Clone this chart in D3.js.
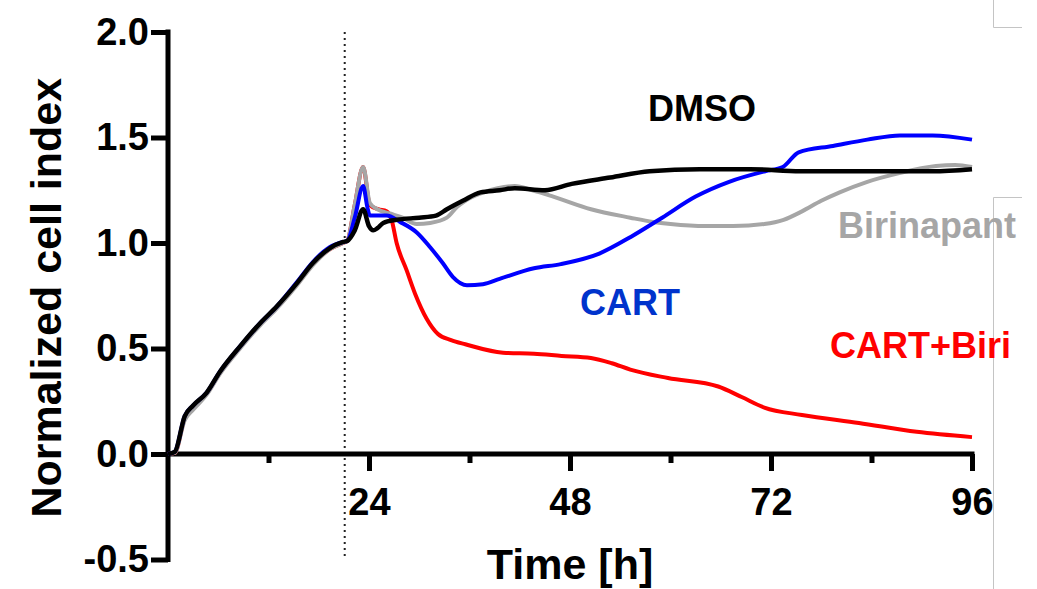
<!DOCTYPE html>
<html>
<head>
<meta charset="utf-8">
<script src="https://cdn.jsdelivr.net/npm/d3@7"></script>
<style>
  body { margin: 0; background: #fff; }
  svg { display: block; font-family: "Liberation Sans", Arial, sans-serif; font-weight: bold; }
</style>
</head>
<body>
<script>

// hours and normalized cell index per condition
var dmsoT = [0,0.8,2,3,4.6,6.2,8.6,11,13,15.4,17.3,19.3,20.9,21.4,22.3,23.3,24,24.5,25,25.7,27.3,30,32,33.3,35.2,37.3,39.6,41.4,45,48.2,52.8,57.5,63.5,69.5,75.5,81.4,87.4,91.3,96];
var dmsoV = [0,0.01,0.18,0.23,0.29,0.39,0.51,0.62,0.70,0.81,0.905,0.975,1.005,1.01,1.06,1.16,1.08,1.06,1.07,1.095,1.11,1.12,1.13,1.16,1.20,1.24,1.25,1.26,1.25,1.28,1.31,1.34,1.35,1.35,1.34,1.34,1.34,1.34,1.35];

var cartT = [0,0.8,2,3,4.6,6.2,8.6,11,13,15.4,17.3,19.3,20.9,21.4,22.3,23.3,23.8,24.1,26.1,27.7,29.7,31.3,32.8,34,35.7,37.6,39.6,43.7,46.9,51.5,55.3,59,63,67,71.3,73.4,75.3,79.4,83.5,87.4,91.3,96];
var cartV = [0,0.01,0.18,0.23,0.29,0.39,0.51,0.62,0.70,0.815,0.91,0.98,1.005,1.01,1.12,1.27,1.17,1.13,1.13,1.10,1.05,0.98,0.905,0.84,0.80,0.805,0.83,0.88,0.90,0.95,1.03,1.12,1.22,1.29,1.34,1.36,1.43,1.46,1.49,1.51,1.51,1.49];

var biriT = [0,0.8,2,3,4.6,6.2,8.6,11,13,15.4,17.3,19.3,20.9,21.4,22.3,23.3,24.1,25,26.5,28,29.7,31.3,33.3,34.5,35.5,37.7,41.4,43.5,46,50.5,55.2,57.9,60,64.2,67.5,71.2,73.5,75.7,78,80.2,83.5,87.2,91.7,94,96];
var biriV = [0,0.005,0.16,0.21,0.28,0.38,0.50,0.61,0.69,0.80,0.895,0.97,1.0,1.01,1.18,1.36,1.19,1.16,1.14,1.12,1.09,1.095,1.12,1.17,1.20,1.24,1.27,1.25,1.22,1.16,1.12,1.10,1.09,1.08,1.08,1.09,1.11,1.15,1.20,1.24,1.29,1.33,1.365,1.37,1.36];

var comboT = [0,0.8,2,3,4.6,6.2,8.6,11,13,15.4,17.3,19.3,20.9,21.4,22.3,23.3,24.1,25.1,26.1,26.7,27.3,28.5,29.5,30.9,32.2,33.8,35.5,40,43.7,47,50.5,53,55.2,59.7,65.7,68.5,71.2,75.7,82.5,89.4,96];
var comboV = [0,0.005,0.17,0.22,0.285,0.385,0.505,0.615,0.695,0.805,0.90,0.97,1.0,1.01,1.18,1.36,1.18,1.16,1.15,1.11,1.00,0.87,0.76,0.64,0.57,0.54,0.52,0.48,0.475,0.465,0.455,0.43,0.40,0.36,0.32,0.27,0.22,0.185,0.147,0.105,0.08];

var xTicks = [24, 48, 72, 96];
var xMinor = [12, 36, 60, 84];
var yTicks = [-0.5, 0, 0.5, 1.0, 1.5, 2.0];
var addTime = 21.1; // dotted line, time of treatment

var series = [
  {name: "CART+Biri", t: comboT, v: comboV, color: "#ff0000", width: 4},
  {name: "Birinapant", t: biriT, v: biriV, color: "#a6a6a6", width: 4},
  {name: "CART", t: cartT, v: cartV, color: "#0000ff", width: 4},
  {name: "DMSO", t: dmsoT, v: dmsoV, color: "#000000", width: 4.5}
];

var labels = [
  {text: "DMSO", x: 648, y: 121, color: "#000000"},
  {text: "CART", x: 580, y: 315, color: "#0033cc"},
  {text: "CART+Biri", x: 830, y: 358, color: "#ff0000"},
  {text: "Birinapant", x: 838, y: 238, color: "#a6a6a6"}
];

var W = 1037, H = 589;
var margin = {top: 32, right: 65, bottom: 29.5, left: 168};

var svg = d3.select("body").append("svg")
    .attr("width", W)
    .attr("height", H);

var x = d3.scaleLinear().domain([0, 96]).range([margin.left, W - margin.right]);
var y = d3.scaleLinear().domain([-0.5, 2.0]).range([H - margin.bottom, margin.top]);

// slide crop marks on the right
var marks = svg.append("g").attr("stroke", "#c4c4c4").attr("stroke-width", 1).attr("fill", "none");
marks.append("path").attr("d", "M993.5,0V27.5H1022");
marks.append("path").attr("d", "M1022,197.5H993.5V589");

// dotted line at treatment
svg.append("line")
    .attr("x1", x(addTime)).attr("x2", x(addTime))
    .attr("y1", y(2.0)).attr("y2", y(-0.5))
    .attr("stroke", "#222")
    .attr("stroke-width", 2)
    .attr("stroke-dasharray", "2,4");

// y axis
var yAxis = svg.append("g")
    .attr("transform", "translate(" + x(0) + ",0)")
    .call(d3.axisLeft(y).tickValues(yTicks).tickSize(17).tickSizeOuter(0).tickPadding(2)
      .tickFormat(function(d) { return d.toFixed(1); }));

// x axis at zero
var xAxis = svg.append("g")
    .attr("transform", "translate(0," + y(0) + ")")
    .call(d3.axisBottom(x).tickValues(xTicks).tickSize(17).tickSizeOuter(0).tickPadding(17)
      .tickFormat(d3.format("d")));
var xAxisMinor = svg.append("g")
    .attr("transform", "translate(0," + y(0) + ")")
    .call(d3.axisBottom(x).tickValues(xMinor).tickSize(9).tickSizeOuter(0).tickFormat(""));
xAxisMinor.select(".domain").remove();

[yAxis, xAxis, xAxisMinor].forEach(function(g) {
  g.selectAll(".domain, .tick line").attr("stroke", "#000").attr("stroke-width", 5);
  g.selectAll(".tick text")
    .attr("fill", "#000")
    .style("font-size", "38px")
    .style("font-weight", "bold")
    .style("font-family", "'Liberation Sans', Arial, sans-serif");
});
xAxis.select(".domain").attr("d", "M" + x(0) + ",0H" + (x(96) + 2.5));
yAxis.select(".domain").attr("d", "M0," + (y(2.0) - 2.5) + "V" + (y(-0.5) + 2.5));

// curves
var line = d3.line()
    .x(function(d) { return x(d[0]); })
    .y(function(d) { return y(d[1]); })
    .curve(d3.curveMonotoneX);

series.forEach(function(s) {
  var pts = s.t.map(function(t, i) { return [t, s.v[i]]; });
  svg.append("path")
    .datum(pts)
    .attr("fill", "none")
    .attr("stroke", s.color)
    .attr("stroke-width", s.width)
    .attr("stroke-linejoin", "round")
    .attr("d", line);
});

// series labels
svg.selectAll(".lab")
  .data(labels)
  .enter().append("text")
    .attr("class", "lab")
    .attr("x", function(d) { return d.x; })
    .attr("y", function(d) { return d.y; })
    .attr("fill", function(d) { return d.color; })
    .style("font-size", "36px")
    .text(function(d) { return d.text; });

// axis titles
svg.append("text")
    .attr("transform", "translate(61," + ((y(2.0) + y(-0.5)) / 2 + 2) + ") rotate(-90)")
    .attr("text-anchor", "middle")
    .style("font-size", "43px")
    .text("Normalized cell index");

svg.append("text")
    .attr("x", (x(0) + x(96)) / 2)
    .attr("y", 579)
    .attr("text-anchor", "middle")
    .style("font-size", "43px")
    .text("Time [h]");

</script>
</body>
</html>
